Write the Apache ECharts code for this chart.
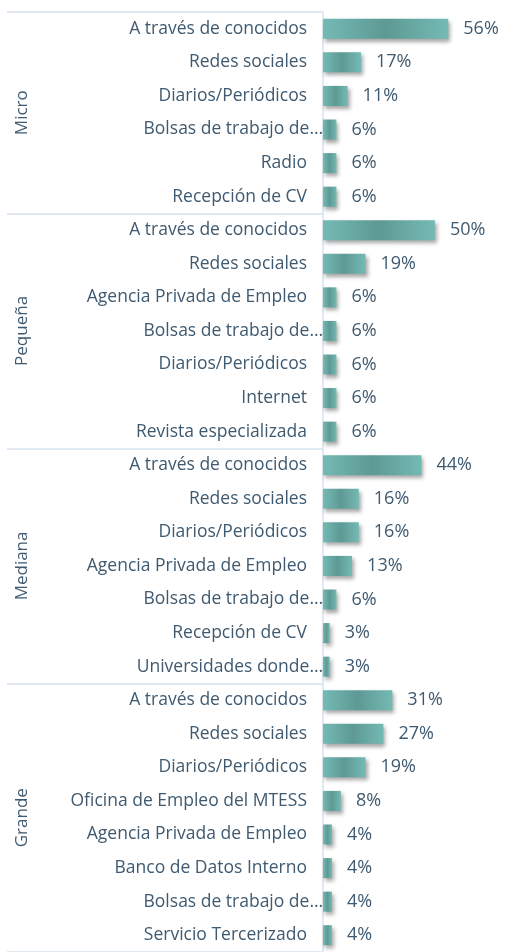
<!DOCTYPE html>
<html>
<head>
<meta charset="utf-8">
<style>
  html, body { margin: 0; padding: 0; background: #fff; }
  #chart { width: 508px; height: 952px; }
</style>
<script src="https://cdn.jsdelivr.net/npm/echarts@6/dist/echarts.min.js"></script>
</head>
<body>
<div id="chart"></div>
<script>
// grupos (tamaño de empresa) y cantidad de filas de cada uno
var groups = ['Micro', 'Pequeña', 'Mediana', 'Grande'];
var groupSizes = [6, 7, 7, 8];

var labels = [
  'A través de conocidos', 'Redes sociales', 'Diarios/Periódicos', 'Bolsas de trabajo de…', 'Radio', 'Recepción de CV',
  'A través de conocidos', 'Redes sociales', 'Agencia Privada de Empleo', 'Bolsas de trabajo de…', 'Diarios/Periódicos', 'Internet', 'Revista especializada',
  'A través de conocidos', 'Redes sociales', 'Diarios/Periódicos', 'Agencia Privada de Empleo', 'Bolsas de trabajo de…', 'Recepción de CV', 'Universidades donde…',
  'A través de conocidos', 'Redes sociales', 'Diarios/Periódicos', 'Oficina de Empleo del MTESS', 'Agencia Privada de Empleo', 'Banco de Datos Interno', 'Bolsas de trabajo de…', 'Servicio Tercerizado'
];
var values = [
  56, 17, 11, 6, 6, 6,
  50, 19, 6, 6, 6, 6, 6,
  44, 16, 16, 13, 6, 3, 3,
  31, 27, 19, 8, 4, 4, 4, 4
];

var textColor = '#3f5a70';
var lineColor = '#d7e3ee';
var font = 'Open Sans';

// índices donde empieza cada grupo
var starts = [];
var acc = 0;
for (var i = 0; i < groupSizes.length; i++) {
  starts.push(acc);
  acc += groupSizes[i];
}

var chart = echarts.init(document.getElementById('chart'));

var option = {
  animation: false,
  grid: { left: 323, right: 6, top: 12, bottom: -7 },
  xAxis: {
    type: 'value',
    min: 0,
    max: 80,
    show: false
  },
  yAxis: {
    type: 'category',
    inverse: true,
    data: labels,
    axisLine: { show: true, lineStyle: { color: lineColor, width: 1.5 } },
    axisTick: {
      show: true,
      length: 316,
      interval: function (idx) { return starts.indexOf(idx) >= 0; },
      lineStyle: { color: lineColor, width: 1.5 }
    },
    axisLabel: {
      margin: 16,
      color: textColor,
      fontSize: 17.5,
      fontFamily: font,
      // las etiquetas cortadas llegan hasta el eje, como en Excel
      formatter: function (v) {
        return v.slice(-1) === '…' ? '{cut|' + v + '}' : v;
      },
      rich: {
        cut: {
          color: textColor,
          fontSize: 17.5,
          fontFamily: font,
          padding: [0, -16, 0, 0]
        }
      }
    }
  },
  series: [{
    type: 'bar',
    data: values,
    barWidth: 20,
    itemStyle: {
      color: {
        type: 'linear', x: 0, y: 0, x2: 1, y2: 0,
        colorStops: [
          { offset: 0, color: '#74bab4' },
          { offset: 0.5, color: '#5e9994' },
          { offset: 1, color: '#74bab4' }
        ]
      },
      shadowColor: 'rgba(0,0,0,0.35)',
      shadowBlur: 4,
      shadowOffsetX: 2,
      shadowOffsetY: 3
    },
    label: {
      show: true,
      position: 'right',
      distance: 15,
      formatter: '{c}%',
      color: textColor,
      fontSize: 18,
      fontFamily: font
    }
  }]
};

chart.setOption(option);

// etiquetas verticales de los grupos
var texts = [];
for (var g = 0; g < groups.length; g++) {
  var y0 = chart.convertToPixel({ yAxisIndex: 0 }, starts[g]);
  var y1 = chart.convertToPixel({ yAxisIndex: 0 }, starts[g] + groupSizes[g] - 1);
  texts.push({
    type: 'text',
    x: 22,
    y: (y0 + y1) / 2,
    rotation: Math.PI / 2,
    style: {
      text: groups[g],
      fill: textColor,
      font: '17px "' + font + '"',
      align: 'center',
      verticalAlign: 'middle'
    }
  });
}
chart.setOption({ graphic: texts });

window.addEventListener('resize', function () { chart.resize(); });
</script>
</body>
</html>
